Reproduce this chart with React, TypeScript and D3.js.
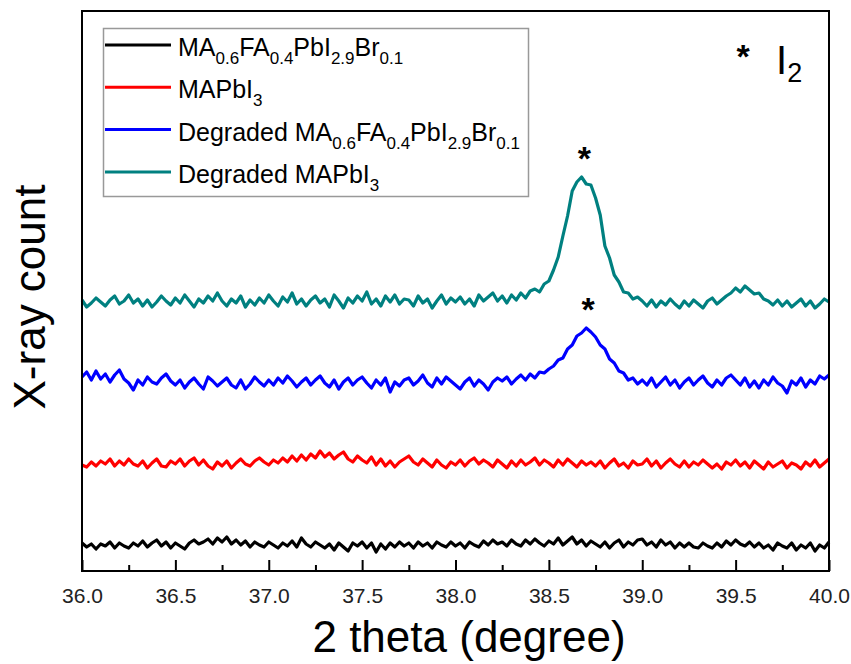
import React, { useRef, useEffect } from "react";
import * as d3 from "d3";

// 2 theta sampling grid, 36.0 .. 40.0 step 0.025
const THETA_START = 36.0;
const THETA_STEP = 0.025;

// intensities (arbitrary offset units)
const PEROVSKITE = [
  28, 24, 27, 22, 27, 25, 29, 23, 28, 25,
  23, 28, 25, 30, 24, 28, 31, 25, 29, 23,
  28, 25, 22, 28, 31, 27, 29, 32, 27, 33,
  29, 34, 27, 31, 26, 30, 24, 29, 26, 24,
  29, 26, 23, 28, 25, 30, 24, 33, 27, 24,
  29, 26, 23, 27, 21, 28, 24, 20, 28, 25,
  29, 23, 28, 19, 27, 22, 28, 24, 29, 25,
  28, 23, 29, 25, 28, 23, 29, 26, 24, 29,
  25, 28, 23, 29, 26, 24, 30, 26, 31, 27,
  29, 25, 31, 27, 25, 31, 27, 32, 28, 25,
  30, 27, 33, 26, 30, 34, 27, 31, 25, 30,
  27, 24, 29, 23, 28, 31, 24, 29, 26, 31,
  32, 26, 29, 24, 31, 26, 29, 23, 28, 24,
  28, 24, 23, 28, 25, 23, 28, 24, 30, 26,
  31, 27, 25, 29, 24, 28, 23, 26, 21, 28,
  25, 23, 28, 21, 26, 23, 28, 20, 26, 23,
  29,
];

const MAPBI3 = [
  106, 104, 109, 105, 110, 107, 112, 105, 110, 106,
  112, 107, 105, 110, 103, 108, 112, 105, 104, 110,
  107, 112, 105, 110, 113, 106, 111, 105, 102, 109,
  105, 110, 103, 108, 112, 107, 105, 110, 113, 109,
  106, 111, 108, 113, 109, 115, 110, 116, 111, 117,
  113, 120, 114, 118, 112, 116, 119, 112, 109, 115,
  111, 108, 114, 106, 112, 105, 110, 104, 109, 112,
  115, 109, 106, 112, 108, 104, 111, 106, 103, 109,
  106, 111, 105, 110, 113, 107, 111, 108, 104, 111,
  107, 103, 110, 105, 111, 106, 109, 113, 106, 111,
  108, 104, 111, 106, 112, 108, 104, 110, 106, 109,
  105, 110, 103, 108, 112, 105, 108, 103, 110, 106,
  107, 112, 105, 110, 103, 108, 112, 107, 104, 110,
  104, 109, 106, 111, 107, 103, 107, 102, 109, 106,
  111, 105, 109, 103, 110, 106, 102, 109, 104, 107,
  110, 103, 108, 106, 102, 109, 105, 111, 104, 108,
  112,
];

const DEG_PEROVSKITE = [
  194, 199, 191, 200, 192, 197, 189, 196, 201, 192,
  188, 181, 191, 186, 194, 189, 187, 193, 197, 190,
  186, 191, 183, 189, 193, 187, 182, 194, 190, 185,
  189, 193, 186, 183, 191, 182, 187, 194, 189, 185,
  191, 186, 193, 188, 195, 190, 184, 189, 193, 186,
  191, 195, 188, 184, 191, 182, 189, 193, 186, 191,
  194, 188, 183, 191, 186, 193, 179, 189, 185, 191,
  193, 186, 190, 196, 188, 184, 193, 187, 194, 190,
  186, 182, 189, 193, 185, 191, 187, 181, 189, 193,
  190, 194, 187, 192, 196, 191, 197, 193, 199, 198,
  202, 205, 211, 213, 222, 226, 235, 238, 243, 239,
  234, 226, 222, 212, 208, 200, 198, 191, 193, 187,
  191, 186, 193, 184, 189, 194, 186, 191, 183, 189,
  193, 186, 191, 195, 188, 184, 191, 186, 193, 196,
  191, 186, 193, 184, 190, 183, 191, 186, 194, 188,
  185, 178, 190, 186, 193, 184, 191, 187, 195, 192,
  196,
];

const DEG_MAPBI3 = [
  271, 264, 268, 273, 269, 265, 271, 275, 267, 270,
  276, 268, 272, 265, 271, 264, 269, 275, 270, 266,
  273, 268, 276, 270, 264, 272, 268, 275, 270, 278,
  270, 265, 272, 268, 275, 264, 271, 266, 273, 268,
  276, 270, 265, 274, 269, 278, 267, 272, 265, 271,
  275, 268, 272, 264, 276, 270, 263, 273, 268, 275,
  270, 279, 267, 272, 265, 275, 269, 276, 267, 272,
  271, 265, 275, 268, 272, 263, 270, 276, 267, 273,
  269, 274, 267, 272, 265, 276, 270, 274, 278, 270,
  275, 268, 276, 271, 278, 273, 280, 282, 279, 287,
  290, 301, 314, 335, 355, 380, 389, 394, 387, 386,
  373, 356, 325, 313, 296, 289, 279, 278, 272, 274,
  270, 265, 271, 264, 270, 266, 272, 267, 263, 270,
  265, 271, 267, 263, 270, 273, 267, 271, 275, 278,
  283, 279, 285, 281, 277, 278, 272, 270, 266, 271,
  265, 270, 264, 268, 272, 265, 270, 263, 267, 272,
  269,
];

// legend rows: [main, sub, main, sub, ...]
const LEGEND = [
  { color: "#000000", parts: ["MA", "0.6", "FA", "0.4", "PbI", "2.9", "Br", "0.1"] },
  { color: "#ff0000", parts: ["MAPbI", "3"] },
  { color: "#0000ff", parts: ["Degraded MA", "0.6", "FA", "0.4", "PbI", "2.9", "Br", "0.1"] },
  { color: "#008080", parts: ["Degraded MAPbI", "3"] },
];
const SERIES = [PEROVSKITE, MAPBI3, DEG_PEROVSKITE, DEG_MAPBI3];

const STARS = [
  { theta: 38.69, level: 394 },
  { theta: 38.71, level: 243 },
];

const X_TICKS = [36.0, 36.5, 37.0, 37.5, 38.0, 38.5, 39.0, 39.5, 40.0];
const X_MINOR = [36.25, 36.75, 37.25, 37.75, 38.25, 38.75, 39.25, 39.75];

export default function App() {
  const svgRef = useRef<SVGSVGElement>(null);

  useEffect(() => {
    const width = 851, height = 664;
    const margin = { top: 11, right: 22, bottom: 93, left: 82 };
    const font = "'Liberation Sans', Arial, sans-serif";

    const x = d3.scaleLinear().domain([36, 40]).range([margin.left, width - margin.right]);
    const y = d3.scaleLinear().domain([0, 560]).range([height - margin.bottom, margin.top]);

    const svg = d3.select(svgRef.current);
    svg.selectAll("*").remove();

    const line = d3.line<number>()
      .x((d, i) => x(THETA_START + i * THETA_STEP))
      .y(d => y(d));

    SERIES.forEach((s, k) => {
      svg.append("path")
        .datum(s)
        .attr("d", line)
        .attr("fill", "none")
        .attr("stroke", LEGEND[k].color)
        .attr("stroke-width", 3.2)
        .attr("stroke-linejoin", "round");
    });

    // frame
    svg.append("rect")
      .attr("x", margin.left)
      .attr("y", margin.top)
      .attr("width", width - margin.left - margin.right)
      .attr("height", height - margin.top - margin.bottom)
      .attr("fill", "none")
      .attr("stroke", "#000")
      .attr("stroke-width", 2);

    const bottom = svg.append("g")
      .attr("transform", `translate(0,${height - margin.bottom})`)
      .call(d3.axisBottom(x).tickValues(X_TICKS).tickSize(-11).tickPadding(17).tickFormat(d3.format(".1f")));
    bottom.select(".domain").remove();
    bottom.selectAll("line").attr("stroke-width", 2);
    bottom.selectAll("text")
      .style("font-size", "21px")
      .style("font-family", font)
      .style("fill", "#222");

    const minor = svg.append("g")
      .attr("transform", `translate(0,${height - margin.bottom})`)
      .call(d3.axisBottom(x).tickValues(X_MINOR).tickSize(-6).tickFormat(() => ""));
    minor.select(".domain").remove();
    minor.selectAll("line").attr("stroke-width", 2);

    // axis titles
    svg.append("text")
      .attr("x", 469)
      .attr("y", 652)
      .attr("text-anchor", "middle")
      .style("font-size", "44px")
      .style("font-family", font)
      .text("2 theta (degree)");

    svg.append("text")
      .attr("transform", `translate(45,297) rotate(-90)`)
      .attr("text-anchor", "middle")
      .style("font-size", "44px")
      .style("font-family", font)
      .text("X-ray count");

    // peak markers
    STARS.forEach(s => {
      svg.append("text")
        .attr("x", x(s.theta))
        .attr("y", y(s.level) - 7)
        .attr("text-anchor", "middle")
        .style("font-size", "34px")
        .style("font-weight", "bold")
        .style("font-family", font)
        .text("*");
    });

    // I2 key
    svg.append("text")
      .attr("x", 743)
      .attr("y", 68)
      .attr("text-anchor", "middle")
      .style("font-size", "34px")
      .style("font-weight", "bold")
      .style("font-family", font)
      .text("*");
    const i2 = svg.append("text")
      .attr("x", 776)
      .attr("y", 74)
      .style("font-size", "40px")
      .style("font-family", font);
    i2.append("tspan").text("I");
    i2.append("tspan").attr("dy", 8).style("font-size", "27px").text("2");

    // legend
    const legend = svg.append("g");
    legend.append("rect")
      .attr("x", 103.5)
      .attr("y", 28.5)
      .attr("width", 425)
      .attr("height", 168)
      .attr("fill", "#fff")
      .attr("stroke", "#999")
      .attr("stroke-width", 1.5);
    LEGEND.forEach((row, i) => {
      const ly = 45 + i * 42.3;
      legend.append("line")
        .attr("x1", 105)
        .attr("x2", 171)
        .attr("y1", ly)
        .attr("y2", ly)
        .attr("stroke", row.color)
        .attr("stroke-width", 3);
      const t = legend.append("text")
        .attr("x", 178)
        .attr("y", ly + 11)
        .style("font-size", "25px")
        .style("font-family", font);
      row.parts.forEach((p, j) => {
        const sub = j % 2 === 1;
        t.append("tspan")
          .attr("dy", j === 0 ? 0 : sub ? 8 : -8)
          .style("font-size", sub ? "17px" : "25px")
          .text(p);
      });
    });
  }, []);

  return (
    <svg
      ref={svgRef}
      width={851}
      height={664}
      style={{ position: "absolute", left: 0, top: 0, background: "#fff" }}
    />
  );
}
